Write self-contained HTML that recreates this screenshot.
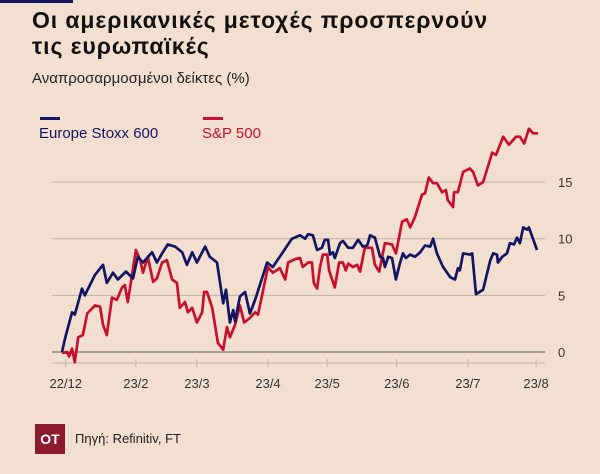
<!DOCTYPE html>
<html><head><meta charset="utf-8"><style>
body{margin:0;width:600px;height:474px;background:#f3dfcf;font-family:"Liberation Sans","DejaVu Sans",sans-serif;overflow:hidden;position:relative}
.t{position:absolute;white-space:nowrap}
</style></head><body>
<div style="position:absolute;left:0;top:0;width:73px;height:3px;background:#121563"></div>
<div class="t" style="left:32px;top:7px;font-size:23px;font-weight:bold;line-height:26px;letter-spacing:0.9px;color:#111">Οι αμερικανικές μετοχές προσπερνούν<br>τις ευρωπαϊκές</div>
<div class="t" style="left:32px;top:70px;font-size:15px;color:#222">Αναπροσαρμοσμένοι δείκτες (%)</div>
<div style="position:absolute;left:40px;top:117px;width:20px;height:3px;background:#121563"></div>
<div class="t" style="left:39px;top:125px;font-size:15px;color:#121563">Europe Stoxx 600</div>
<div style="position:absolute;left:203px;top:117px;width:20px;height:3px;background:#c8102e"></div>
<div class="t" style="left:202px;top:125px;font-size:15px;color:#c8102e">S&amp;P 500</div>
<svg id="chart" width="600" height="474" style="position:absolute;left:0;top:0"></svg>
<div style="position:absolute;left:35px;top:424px;width:30px;height:30px;background:#8b1a2e;color:#fff;font-weight:bold;font-size:14px;line-height:30px;text-align:center">OT</div>
<div class="t" style="left:75px;top:431px;font-size:13px;color:#222">Πηγή: Refinitiv, FT</div>
<script>
const tickT=[1.0,15.7,28.5,43.4,55.8,70.4,85.3,99.6];
const tickLabels=["22/12","23/2","23/3","23/4","23/5","23/6","23/7","23/8"];
const yTicks=[0,5,10,15];
const euT=[0.2,0.8,2.3,2.9,4.4,5.0,7.1,8.8,9.6,10.9,11.9,13.6,15.1,16.1,17.2,19.1,20.1,21.2,22.4,23.9,25.4,26.4,27.5,28.5,30.2,31.2,32.7,34.0,34.6,35.4,36.1,36.5,37.5,38.6,39.6,40.7,43.2,44.4,46.5,48.4,50.1,51.2,51.8,52.8,53.7,54.7,55.3,56.0,56.4,57.0,57.4,58.5,59.1,60.2,61.2,62.3,63.3,64.2,64.8,65.8,66.9,67.5,67.9,68.6,69.4,70.2,71.1,71.7,72.3,73.2,74.2,75.3,76.3,77.4,78.0,78.8,80.1,81.6,82.6,83.2,83.6,84.3,85.7,86.2,87.0,88.5,90.0,90.6,91.4,91.6,92.5,93.5,94.1,95.0,95.6,96.2,96.9,97.7,98.1,99.8];
const euV=[0,1.1,3.5,3.3,5.6,5,6.8,7.7,6.1,7,6.4,7.1,6.5,8.4,7.9,8.8,7.9,8.7,9.5,9.3,8.8,7.7,8.8,7.9,9.3,8.4,7.9,4.3,5.5,2.6,3.7,2.7,4.9,5.3,3.4,4.6,7.9,7.5,8.8,10,10.3,10,10.4,10.3,9,9.2,9.9,9.9,8.6,8.8,8.3,9.6,9.8,9.2,9.2,9.9,9.3,9.4,10.3,10.1,8.4,8.3,7.5,8.4,8.3,6.4,7.9,8.7,8.3,8.6,8.4,8.8,9.4,9.3,10,8.7,7.5,6.6,6.4,7.4,7.2,8.7,8.6,8.7,5.1,5.5,8.1,8.7,8.6,7.9,8.4,8.7,9.6,9.5,10.1,9.6,11,10.8,11,9];
const spT=[0.2,1.3,1.7,2.3,2.9,3.6,4.6,5.5,7.1,8.2,8.8,9.6,10.7,11.7,12.8,13.4,14.0,15.7,16.6,17.2,18.2,19.3,20.1,21.2,22.2,23.3,24.3,24.9,26.0,26.6,27.5,28.5,29.6,30.0,30.6,31.7,32.9,34.0,34.8,35.4,36.5,37.5,38.4,39.6,40.7,41.3,43.4,44.4,45.9,47.0,47.6,49.1,50.1,50.7,51.8,52.6,53.0,53.7,54.3,54.9,55.8,56.2,57.4,58.3,59.1,59.7,60.2,61.2,62.1,62.7,63.7,65.2,65.8,66.7,67.9,69.4,70.2,71.5,72.5,73.2,74.2,75.7,76.3,77.1,78.0,78.8,79.9,80.7,81.1,82.2,82.4,83.2,84.3,85.7,86.4,87.4,88.5,90.4,91.2,92.7,93.9,95.4,96.2,97.1,98.1,99.0,100];
const spV=[-0.1,0,-0.4,0.3,-0.9,1.3,1.5,3.4,4.1,4,2.4,1.5,4.8,4.6,5.7,5.9,4.4,9,8.1,7,8.4,6.2,6.5,7.9,8.1,6.4,6.1,3.9,4.4,3.5,3.9,2.6,3.5,5.3,5.3,3.9,0.8,0.2,2.2,1.3,2.4,4.1,2.6,3,3.5,3.3,7.5,7,7.4,6.4,7.9,8.2,8.3,7.5,7.9,7.9,6.1,5.6,7.5,8.6,8.6,7.2,5.7,7.9,7.9,7.2,7.8,7.5,7.7,7.1,9.2,9.2,7.7,7.1,9.6,9.5,8.7,11.5,11.7,11,11.9,13.9,14,15.4,14.9,14.9,14.1,14.3,13.4,12.8,14.1,14.1,15.9,16.2,15.9,14.7,15,17.6,17.4,19,18.3,19,19,18.4,19.7,19.3,19.3];
const svg=document.getElementById('chart');
const NS='http://www.w3.org/2000/svg';
const X=t=>61+t*4.77;
const Y=v=>352-v*11.33;
function mk(tag,attrs){const e=document.createElementNS(NS,tag);for(const k in attrs)e.setAttribute(k,attrs[k]);svg.appendChild(e);return e;}
yTicks.forEach(v=>{
  const l=mk('line',{x1:52,x2:545,y1:Y(v),y2:Y(v),stroke:v===0?'#777':'#c2b2a6','stroke-width':v===0?1.3:1});
  
  
  const t=mk('text',{x:558,y:Y(v)+5,'font-size':13,fill:'#333','font-family':'Liberation Sans, sans-serif'});
  t.textContent=v;
  
  
});
const ax=mk('line',{x1:52,x2:545,y1:363,y2:363,stroke:'#c2b2a6','stroke-width':1});


tickT.forEach((t,i)=>{
  const tk=mk('line',{x1:X(t),x2:X(t),y1:359,y2:367,stroke:'#c2b2a6','stroke-width':1});
  
  
  const tx=mk('text',{x:X(t),y:388,'font-size':13,fill:'#333','text-anchor':'middle','font-family':'Liberation Sans, sans-serif'});
  tx.textContent=tickLabels[i];
  
  
});
function line(ts,vs,color,name){
  const d=ts.map((t,i)=>(i?'L':'M')+X(t).toFixed(1)+','+Y(vs[i]).toFixed(1)).join('');
  const p=mk('path',{d:d,fill:'none',stroke:color,'stroke-width':2.7,'stroke-linejoin':'round'});
  
  
}
line(spT,spV,'#c8102e','sp500-line');
line(euT,euV,'#121563','europe-stoxx-line');
</script>
</body></html>
